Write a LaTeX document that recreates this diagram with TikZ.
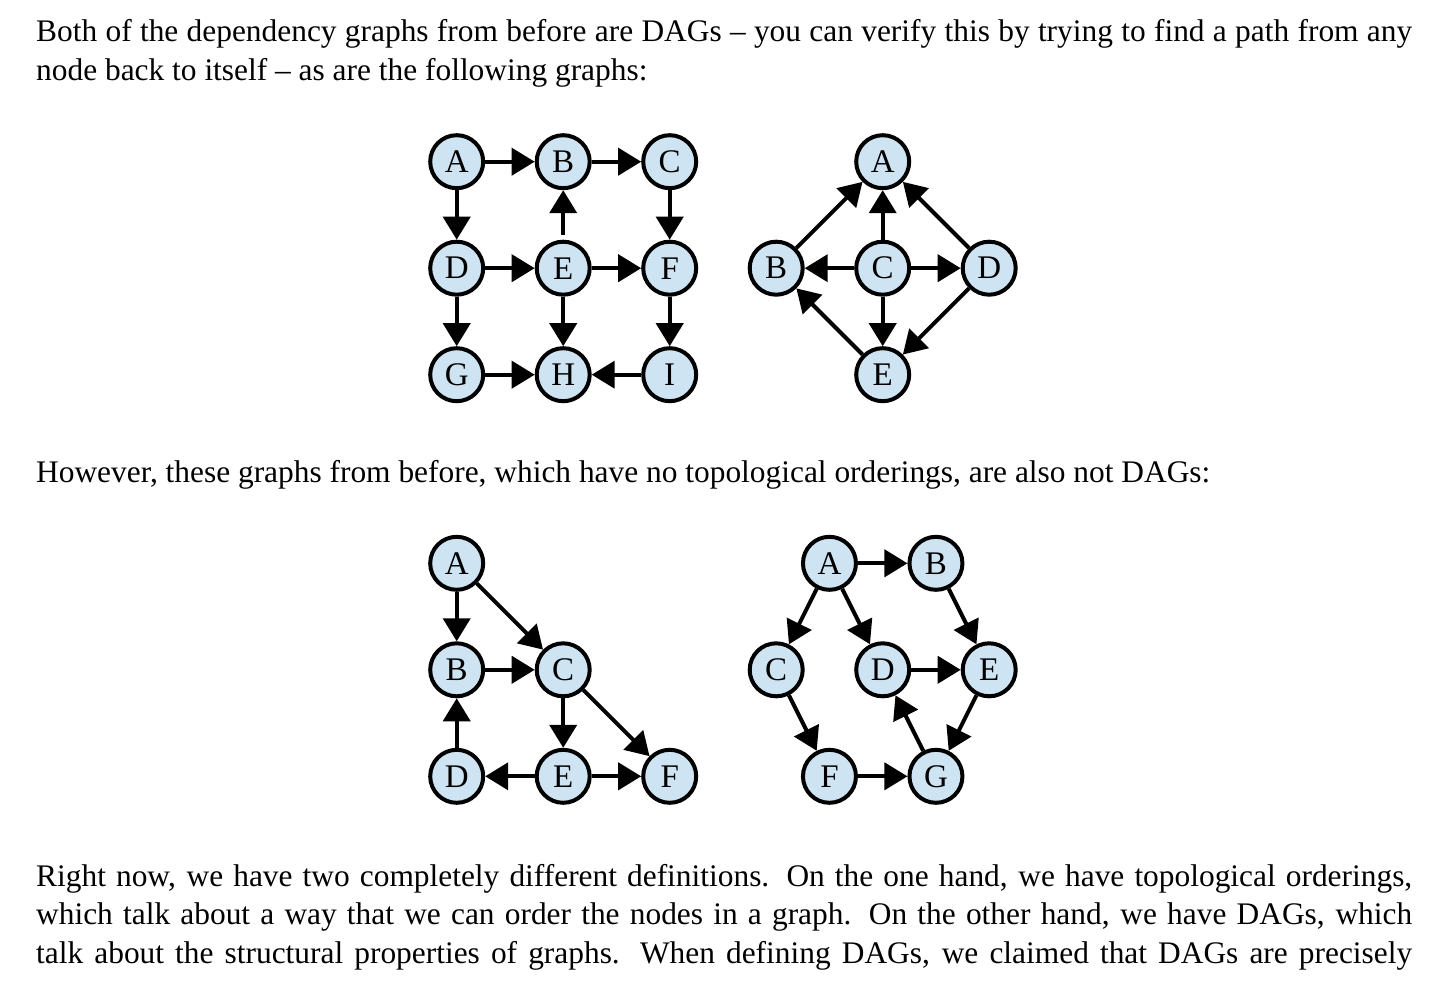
\documentclass[tikz,border=0pt]{standalone}
\usepackage{fontspec}
\setmainfont{Liberation Serif}
\usetikzlibrary{arrows.meta}
\definecolor{nodeblue}{RGB}{207,228,242}
\tikzset{
  vtx/.style={circle, draw=black, line width=4pt, fill=nodeblue, minimum size=53pt, inner sep=0pt, font=\fontsize{33}{36}\selectfont},
  arr/.style={-{Triangle[length=23pt,width=27pt]}, line width=4pt, black},
  para/.style={anchor=base west, inner sep=0pt, font=\fontsize{31.4}{38.7}\selectfont},
}
\begin{document}
\begin{tikzpicture}[x=1pt,y=-1pt]
\useasboundingbox[fill=white] (0,0) rectangle (1455,992);

\node[para] (p1) at (36,42) {\begin{minipage}[t]{1376pt}\fontsize{31.4}{38.7}\selectfont Both of the dependency graphs from before are DAGs -- you can verify this by trying to find a path from any\linebreak node back to itself -- as are the following graphs:\end{minipage}};

\node[para] (p2) at (36,482) {However, these graphs from before, which have no topological orderings, are also not DAGs:};

\node[para] (p3) at (36,886) {\begin{minipage}[t]{1376pt}\fontsize{31.4}{38.5}\selectfont\parfillskip=0pt Right now, we have two completely different definitions.  On the one hand, we have topological orderings,\linebreak which talk about a way that we can order the nodes in a graph.  On the other hand, we have DAGs, which\linebreak talk about the structural properties of graphs.  When defining DAGs, we claimed that DAGs are precisely\par\end{minipage}};

% Graph 1
\def\cA{456.7}\def\cB{563.2}\def\cC{669.7}\def\cD{776.2}\def\cE{882.7}\def\cF{989.2}
\def\rA{161.7}\def\rB{268.2}\def\rC{374.7}
\node[vtx] (ga) at (\cA,\rA) {A};
\node[vtx] (gb) at (\cB,\rA) {B};
\node[vtx] (gc) at (\cC,\rA) {C};
\node[vtx] (gd) at (\cA,\rB) {D};
\node[vtx] (ge) at (\cB,\rB) {E};
\node[vtx] (gf) at (\cC,\rB) {F};
\node[vtx] (gg) at (\cA,\rC) {G};
\node[vtx] (gh) at (\cB,\rC) {H};
\node[vtx] (gi) at (\cC,\rC) {I};
\draw[arr] (ga) -- (gb);
\draw[arr] (gb) -- (gc);
\draw[arr] (ga) -- (gd);
\draw[arr, shorten <=5pt] (ge) -- (gb);
\draw[arr] (gc) -- (gf);
\draw[arr] (gd) -- (ge);
\draw[arr] (ge) -- (gf);
\draw[arr] (gd) -- (gg);
\draw[arr] (ge) -- (gh);
\draw[arr] (gf) -- (gi);
\draw[arr] (gg) -- (gh);
\draw[arr] (gi) -- (gh);

% Graph 2
\node[vtx] (ha) at (\cE,\rA) {A};
\node[vtx] (hb) at (\cD,\rB) {B};
\node[vtx] (hc) at (\cE,\rB) {C};
\node[vtx] (hd) at (\cF,\rB) {D};
\node[vtx] (he) at (\cE,\rC) {E};
\draw[arr] (hb) -- (ha);
\draw[arr] (hc) -- (ha);
\draw[arr] (hd) -- (ha);
\draw[arr] (hc) -- (hb);
\draw[arr] (hc) -- (hd);
\draw[arr] (hc) -- (he);
\draw[arr] (hd) -- (he);
\draw[arr] (he) -- (hb);

% Graph 3
\def\sA{563.3}\def\sB{669.8}\def\sC{776.3}
\node[vtx] (ka) at (\cA,\sA) {A};
\node[vtx] (kb) at (\cA,\sB) {B};
\node[vtx] (kc) at (\cB,\sB) {C};
\node[vtx] (kd) at (\cA,\sC) {D};
\node[vtx] (ke) at (\cB,\sC) {E};
\node[vtx] (kf) at (\cC,\sC) {F};
\draw[arr] (ka) -- (kb);
\draw[arr] (ka) -- (kc);
\draw[arr] (kb) -- (kc);
\draw[arr] (kd) -- (kb);
\draw[arr] (kc) -- (ke);
\draw[arr] (kc) -- (kf);
\draw[arr] (ke) -- (kd);
\draw[arr] (ke) -- (kf);

% Graph 4
\def\mA{829.45}\def\mB{935.95}
\node[vtx] (ma) at (\mA,\sA) {A};
\node[vtx] (mb) at (\mB,\sA) {B};
\node[vtx] (mc) at (\cD,\sB) {C};
\node[vtx] (md) at (\cE,\sB) {D};
\node[vtx] (me) at (\cF,\sB) {E};
\node[vtx] (mf) at (\mA,\sC) {F};
\node[vtx] (mg) at (\mB,\sC) {G};
\draw[arr] (ma) -- (mb);
\draw[arr] (ma) -- (mc);
\draw[arr] (ma) -- (md);
\draw[arr] (mb) -- (me);
\draw[arr] (mc) -- (mf);
\draw[arr] (md) -- (me);
\draw[arr] (me) -- (mg);
\draw[arr] (mf) -- (mg);
\draw[arr] (mg) -- (md);
\end{tikzpicture}
\end{document}
